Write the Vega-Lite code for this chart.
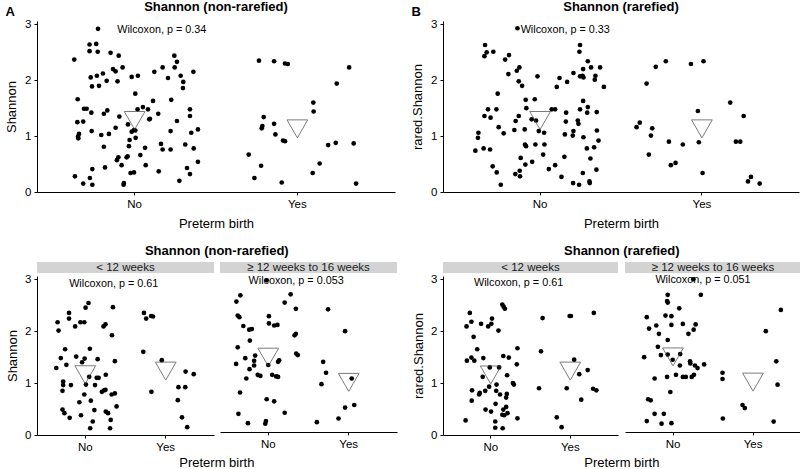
{
"$schema": "https://vega.github.io/schema/vega-lite/v6.json",
"padding": {"left": 5, "top": 1, "right": 0, "bottom": 0},
"datasets": {
"A": [
{"g":"No","j":-0.225,"v":2.92},{"g":"No","j":-0.371,"v":2.37},{"g":"No","j":-0.277,"v":2.64},{"g":"No","j":-0.236,"v":2.65},{"g":"No","j":-0.277,"v":2.52},{"g":"No","j":-0.227,"v":2.51},{"g":"No","j":-0.148,"v":2.49},{"g":"No","j":-0.098,"v":2.44},{"g":"No","j":-0.195,"v":2.12},{"g":"No","j":-0.232,"v":2.08},{"g":"No","j":-0.270,"v":2.05},{"g":"No","j":-0.262,"v":1.89},{"g":"No","j":-0.219,"v":1.90},{"g":"No","j":-0.172,"v":1.99},{"g":"No","j":-0.133,"v":2.20},{"g":"No","j":-0.117,"v":2.16},{"g":"No","j":-0.105,"v":1.98},{"g":"No","j":-0.074,"v":2.23},{"g":"No","j":-0.018,"v":2.06},{"g":"No","j":0.020,"v":2.08},{"g":"No","j":-0.350,"v":1.66},{"g":"No","j":-0.311,"v":1.49},{"g":"No","j":-0.295,"v":1.49},{"g":"No","j":-0.352,"v":1.25},{"g":"No","j":-0.316,"v":1.26},{"g":"No","j":-0.266,"v":1.42},{"g":"No","j":-0.168,"v":1.46},{"g":"No","j":-0.189,"v":1.40},{"g":"No","j":-0.094,"v":1.35},{"g":"No","j":-0.117,"v":1.15},{"g":"No","j":-0.264,"v":1.09},{"g":"No","j":-0.342,"v":1.04},{"g":"No","j":-0.348,"v":0.99},{"g":"No","j":-0.346,"v":0.96},{"g":"No","j":-0.205,"v":1.02},{"g":"No","j":-0.158,"v":1.04},{"g":"No","j":0.004,"v":1.76},{"g":"No","j":-0.041,"v":1.21},{"g":"No","j":-0.018,"v":1.08},{"g":"No","j":-0.004,"v":1.11},{"g":"No","j":0.004,"v":1.10},{"g":"No","j":0.006,"v":0.97},{"g":"No","j":0.018,"v":1.48},{"g":"No","j":0.051,"v":1.52},{"g":"No","j":0.082,"v":1.48},{"g":"No","j":0.090,"v":1.30},{"g":"No","j":0.094,"v":1.31},{"g":"No","j":0.113,"v":1.63},{"g":"No","j":0.145,"v":1.40},{"g":"No","j":0.121,"v":2.15},{"g":"No","j":0.172,"v":2.23},{"g":"No","j":0.205,"v":2.04},{"g":"No","j":0.244,"v":2.44},{"g":"No","j":0.260,"v":2.33},{"g":"No","j":0.246,"v":2.23},{"g":"No","j":0.283,"v":2.08},{"g":"No","j":0.299,"v":1.97},{"g":"No","j":0.297,"v":1.86},{"g":"No","j":0.361,"v":2.15},{"g":"No","j":0.225,"v":1.65},{"g":"No","j":0.260,"v":1.27},{"g":"No","j":0.221,"v":1.09},{"g":"No","j":0.340,"v":1.48},{"g":"No","j":0.340,"v":1.36},{"g":"No","j":0.348,"v":1.06},{"g":"No","j":0.363,"v":0.78},{"g":"No","j":0.389,"v":1.12},{"g":"No","j":0.311,"v":0.85},{"g":"No","j":0.162,"v":0.86},{"g":"No","j":0.172,"v":0.76},{"g":"No","j":0.221,"v":0.76},{"g":"No","j":0.322,"v":0.43},{"g":"No","j":0.340,"v":0.32},{"g":"No","j":0.389,"v":0.54},{"g":"No","j":0.275,"v":0.20},{"g":"No","j":0.148,"v":0.37},{"g":"No","j":0.068,"v":0.48},{"g":"No","j":0.064,"v":0.79},{"g":"No","j":0.035,"v":0.66},{"g":"No","j":-0.031,"v":0.93},{"g":"No","j":-0.035,"v":0.82},{"g":"No","j":-0.043,"v":0.64},{"g":"No","j":-0.100,"v":0.62},{"g":"No","j":-0.109,"v":0.57},{"g":"No","j":-0.049,"v":0.62},{"g":"No","j":-0.080,"v":0.48},{"g":"No","j":-0.025,"v":0.34},{"g":"No","j":-0.004,"v":0.35},{"g":"No","j":-0.066,"v":0.16},{"g":"No","j":-0.068,"v":0.13},{"g":"No","j":-0.189,"v":0.81},{"g":"No","j":-0.182,"v":0.44},{"g":"No","j":-0.260,"v":0.41},{"g":"No","j":-0.275,"v":0.25},{"g":"No","j":-0.316,"v":0.15},{"g":"No","j":-0.260,"v":0.13},{"g":"No","j":-0.367,"v":0.28},
{"g":"Yes","j":-0.236,"v":2.35},{"g":"Yes","j":-0.143,"v":2.34},{"g":"Yes","j":-0.076,"v":2.30},{"g":"Yes","j":-0.059,"v":2.29},{"g":"Yes","j":0.318,"v":2.23},{"g":"Yes","j":0.242,"v":1.94},{"g":"Yes","j":0.098,"v":1.60},{"g":"Yes","j":0.100,"v":1.44},{"g":"Yes","j":-0.207,"v":1.34},{"g":"Yes","j":-0.215,"v":1.18},{"g":"Yes","j":-0.219,"v":1.14},{"g":"Yes","j":-0.143,"v":1.22},{"g":"Yes","j":-0.135,"v":1.03},{"g":"Yes","j":-0.088,"v":0.92},{"g":"Yes","j":-0.076,"v":0.91},{"g":"Yes","j":-0.299,"v":0.67},{"g":"Yes","j":-0.223,"v":0.47},{"g":"Yes","j":-0.264,"v":0.25},{"g":"Yes","j":-0.096,"v":0.17},{"g":"Yes","j":0.094,"v":0.34},{"g":"Yes","j":0.137,"v":0.51},{"g":"Yes","j":0.189,"v":0.84},{"g":"Yes","j":0.236,"v":0.88},{"g":"Yes","j":0.346,"v":0.87},{"g":"Yes","j":0.361,"v":0.15}
],
"Am": [{"g":"No","j":0,"v":1.28},{"g":"Yes","j":0,"v":1.13}],
"B": [
{"g":"No","j":-0.140,"v":2.93},{"g":"No","j":-0.340,"v":2.63},{"g":"No","j":-0.330,"v":2.50},{"g":"No","j":-0.344,"v":2.43},{"g":"No","j":-0.289,"v":2.51},{"g":"No","j":-0.216,"v":2.37},{"g":"No","j":-0.192,"v":2.45},{"g":"No","j":-0.196,"v":2.11},{"g":"No","j":-0.128,"v":2.23},{"g":"No","j":-0.144,"v":2.17},{"g":"No","j":-0.132,"v":1.98},{"g":"No","j":-0.111,"v":1.90},{"g":"No","j":-0.262,"v":1.76},{"g":"No","j":-0.016,"v":2.07},{"g":"No","j":-0.270,"v":1.48},{"g":"No","j":-0.322,"v":1.48},{"g":"No","j":-0.344,"v":1.36},{"g":"No","j":-0.306,"v":1.33},{"g":"No","j":-0.256,"v":1.16},{"g":"No","j":-0.225,"v":1.05},{"g":"No","j":-0.381,"v":1.06},{"g":"No","j":-0.384,"v":0.97},{"g":"No","j":-0.400,"v":0.74},{"g":"No","j":-0.349,"v":0.78},{"g":"No","j":-0.309,"v":0.76},{"g":"No","j":-0.089,"v":1.65},{"g":"No","j":-0.033,"v":1.66},{"g":"No","j":-0.085,"v":1.50},{"g":"No","j":-0.132,"v":1.36},{"g":"No","j":-0.151,"v":1.27},{"g":"No","j":-0.159,"v":1.11},{"g":"No","j":-0.095,"v":1.12},{"g":"No","j":-0.052,"v":1.30},{"g":"No","j":-0.025,"v":1.28},{"g":"No","j":-0.008,"v":1.09},{"g":"No","j":0.025,"v":1.06},{"g":"No","j":-0.029,"v":0.85},{"g":"No","j":0.027,"v":0.85},{"g":"No","j":-0.093,"v":0.85},{"g":"No","j":-0.087,"v":0.82},{"g":"No","j":0.019,"v":0.67},{"g":"No","j":-0.049,"v":0.54},{"g":"No","j":-0.091,"v":0.49},{"g":"No","j":-0.120,"v":0.61},{"g":"No","j":-0.126,"v":0.38},{"g":"No","j":-0.153,"v":0.32},{"g":"No","j":-0.124,"v":0.28},{"g":"No","j":-0.293,"v":0.46},{"g":"No","j":-0.268,"v":0.35},{"g":"No","j":-0.243,"v":0.13},{"g":"No","j":0.054,"v":0.41},{"g":"No","j":0.072,"v":1.48},{"g":"No","j":0.093,"v":1.48},{"g":"No","j":0.103,"v":1.88},{"g":"No","j":0.120,"v":2.04},{"g":"No","j":0.167,"v":1.97},{"g":"No","j":0.159,"v":1.26},{"g":"No","j":0.161,"v":1.42},{"g":"No","j":0.153,"v":1.03},{"g":"No","j":0.093,"v":0.48},{"g":"No","j":0.132,"v":0.27},{"g":"No","j":0.150,"v":0.63},{"g":"No","j":0.206,"v":2.13},{"g":"No","j":0.247,"v":2.63},{"g":"No","j":0.243,"v":2.51},{"g":"No","j":0.247,"v":2.07},{"g":"No","j":0.262,"v":2.08},{"g":"No","j":0.266,"v":2.20},{"g":"No","j":0.268,"v":2.05},{"g":"No","j":0.295,"v":2.34},{"g":"No","j":0.315,"v":2.23},{"g":"No","j":0.342,"v":2.08},{"g":"No","j":0.338,"v":2.01},{"g":"No","j":0.371,"v":2.23},{"g":"No","j":0.394,"v":1.88},{"g":"No","j":0.266,"v":1.63},{"g":"No","j":0.247,"v":1.48},{"g":"No","j":0.295,"v":1.52},{"g":"No","j":0.291,"v":1.42},{"g":"No","j":0.350,"v":1.43},{"g":"No","j":0.233,"v":1.28},{"g":"No","j":0.237,"v":1.22},{"g":"No","j":0.206,"v":1.09},{"g":"No","j":0.202,"v":1.01},{"g":"No","j":0.268,"v":0.98},{"g":"No","j":0.351,"v":1.10},{"g":"No","j":0.361,"v":0.92},{"g":"No","j":0.289,"v":0.78},{"g":"No","j":0.334,"v":0.80},{"g":"No","j":0.311,"v":0.60},{"g":"No","j":0.348,"v":0.40},{"g":"No","j":0.264,"v":0.34},{"g":"No","j":0.204,"v":0.16},{"g":"No","j":0.241,"v":0.13},{"g":"No","j":0.305,"v":0.19},{"g":"No","j":0.307,"v":0.16},
{"g":"Yes","j":-0.342,"v":1.94},{"g":"Yes","j":-0.285,"v":2.24},{"g":"Yes","j":-0.223,"v":2.34},{"g":"Yes","j":-0.068,"v":2.29},{"g":"Yes","j":0.010,"v":2.34},{"g":"Yes","j":-0.404,"v":1.16},{"g":"Yes","j":-0.384,"v":1.24},{"g":"Yes","j":-0.307,"v":1.14},{"g":"Yes","j":-0.315,"v":1.01},{"g":"Yes","j":-0.328,"v":0.67},{"g":"Yes","j":-0.204,"v":0.90},{"g":"Yes","j":-0.192,"v":0.48},{"g":"Yes","j":-0.163,"v":0.52},{"g":"Yes","j":-0.118,"v":0.85},{"g":"Yes","j":-0.025,"v":1.45},{"g":"Yes","j":-0.019,"v":0.89},{"g":"Yes","j":0.004,"v":0.34},{"g":"Yes","j":0.175,"v":1.60},{"g":"Yes","j":0.258,"v":1.36},{"g":"Yes","j":0.210,"v":0.90},{"g":"Yes","j":0.237,"v":0.90},{"g":"Yes","j":0.303,"v":0.27},{"g":"Yes","j":0.285,"v":0.19},{"g":"Yes","j":0.357,"v":0.15}
],
"Bm": [{"g":"No","j":0,"v":1.28},{"g":"Yes","j":0,"v":1.13}],
"C1": [
{"g":"No","j":-0.344,"v":2.17},{"g":"No","j":-0.332,"v":2.01},{"g":"No","j":-0.202,"v":2.35},{"g":"No","j":-0.202,"v":2.24},{"g":"No","j":-0.126,"v":2.09},{"g":"No","j":-0.061,"v":2.17},{"g":"No","j":-0.012,"v":2.17},{"g":"No","j":0.004,"v":2.45},{"g":"No","j":0.040,"v":2.54},{"g":"No","j":0.227,"v":2.09},{"g":"No","j":0.251,"v":2.13},{"g":"No","j":0.344,"v":2.46},{"g":"No","j":0.332,"v":1.92},{"g":"No","j":-0.251,"v":1.65},{"g":"No","j":-0.304,"v":1.48},{"g":"No","j":-0.360,"v":1.29},{"g":"No","j":-0.235,"v":1.35},{"g":"No","j":-0.113,"v":1.51},{"g":"No","j":-0.040,"v":1.40},{"g":"No","j":-0.008,"v":1.47},{"g":"No","j":0.057,"v":1.66},{"g":"No","j":0.154,"v":1.46},{"g":"No","j":0.368,"v":1.42},{"g":"No","j":-0.275,"v":1.03},{"g":"No","j":-0.275,"v":0.96},{"g":"No","j":-0.178,"v":0.96},{"g":"No","j":-0.283,"v":0.85},{"g":"No","j":0.049,"v":1.12},{"g":"No","j":0.008,"v":0.97},{"g":"No","j":0.121,"v":0.96},{"g":"No","j":0.166,"v":1.10},{"g":"No","j":0.142,"v":1.10},{"g":"No","j":0.255,"v":1.16},{"g":"No","j":0.206,"v":0.83},{"g":"No","j":0.235,"v":0.86},{"g":"No","j":0.251,"v":0.87},{"g":"No","j":0.328,"v":0.78},{"g":"No","j":0.368,"v":0.80},{"g":"No","j":-0.012,"v":0.78},{"g":"No","j":-0.073,"v":0.63},{"g":"No","j":0.069,"v":0.66},{"g":"No","j":0.113,"v":0.48},{"g":"No","j":-0.283,"v":0.49},{"g":"No","j":-0.259,"v":0.42},{"g":"No","j":-0.194,"v":0.33},{"g":"No","j":-0.053,"v":0.38},{"g":"No","j":0.255,"v":0.45},{"g":"No","j":0.283,"v":0.42},{"g":"No","j":0.389,"v":0.55},{"g":"No","j":0.316,"v":0.29},{"g":"No","j":0.093,"v":0.26},{"g":"No","j":0.061,"v":0.13},{"g":"No","j":0.308,"v":0.13},
{"g":"Yes","j":-0.271,"v":2.35},{"g":"Yes","j":-0.243,"v":2.24},{"g":"Yes","j":-0.182,"v":2.29},{"g":"Yes","j":-0.158,"v":2.28},{"g":"Yes","j":-0.279,"v":1.60},{"g":"Yes","j":-0.049,"v":1.44},{"g":"Yes","j":-0.178,"v":0.83},{"g":"Yes","j":0.158,"v":0.92},{"g":"Yes","j":0.247,"v":1.22},{"g":"Yes","j":0.348,"v":1.17},{"g":"Yes","j":0.243,"v":0.92},{"g":"Yes","j":0.150,"v":0.67},{"g":"Yes","j":0.202,"v":0.34},{"g":"Yes","j":0.267,"v":0.15}
],
"C1m": [{"g":"No","j":0,"v":1.16},{"g":"Yes","j":0,"v":1.23}],
"C2": [
{"g":"No","j":-0.020,"v":2.92},{"g":"No","j":-0.396,"v":2.51},{"g":"No","j":-0.347,"v":2.63},{"g":"No","j":-0.380,"v":2.24},{"g":"No","j":-0.359,"v":2.21},{"g":"No","j":-0.310,"v":2.04},{"g":"No","j":-0.237,"v":1.97},{"g":"No","j":-0.204,"v":1.98},{"g":"No","j":0.008,"v":2.23},{"g":"No","j":0.008,"v":2.09},{"g":"No","j":0.073,"v":2.05},{"g":"No","j":0.114,"v":2.06},{"g":"No","j":0.204,"v":2.49},{"g":"No","j":0.278,"v":2.65},{"g":"No","j":0.343,"v":2.37},{"g":"No","j":0.343,"v":1.89},{"g":"No","j":0.327,"v":1.86},{"g":"No","j":-0.380,"v":1.63},{"g":"No","j":-0.400,"v":1.31},{"g":"No","j":-0.286,"v":1.42},{"g":"No","j":-0.163,"v":1.47},{"g":"No","j":-0.176,"v":1.37},{"g":"No","j":-0.233,"v":1.21},{"g":"No","j":-0.176,"v":1.28},{"g":"No","j":-0.229,"v":1.76},{"g":"No","j":-0.273,"v":1.03},{"g":"No","j":-0.131,"v":1.10},{"g":"No","j":-0.098,"v":1.08},{"g":"No","j":0.000,"v":1.29},{"g":"No","j":0.122,"v":1.35},{"g":"No","j":0.135,"v":1.38},{"g":"No","j":0.049,"v":1.10},{"g":"No","j":0.098,"v":1.07},{"g":"No","j":0.122,"v":1.06},{"g":"No","j":0.347,"v":1.51},{"g":"No","j":0.367,"v":1.48},{"g":"No","j":-0.351,"v":0.76},{"g":"No","j":0.073,"v":0.59},{"g":"No","j":-0.020,"v":0.63},{"g":"No","j":0.204,"v":0.37},{"g":"No","j":-0.371,"v":0.35},{"g":"No","j":-0.253,"v":0.17},{"g":"No","j":-0.029,"v":0.21},{"g":"No","j":-0.037,"v":0.16},
{"g":"Yes","j":-0.257,"v":2.36},{"g":"Yes","j":-0.045,"v":1.94},{"g":"Yes","j":-0.318,"v":1.35},{"g":"Yes","j":-0.282,"v":1.14},{"g":"Yes","j":-0.339,"v":0.92},{"g":"Yes","j":0.037,"v":1.03},{"g":"Yes","j":0.069,"v":0.52},{"g":"Yes","j":-0.045,"v":0.47},{"g":"Yes","j":-0.127,"v":0.26},{"g":"Yes","j":-0.396,"v":0.19}
],
"C2m": [{"g":"No","j":0,"v":1.44},{"g":"Yes","j":0,"v":0.955}],
"D1": [
{"g":"No","j":-0.304,"v":2.09},{"g":"No","j":-0.263,"v":2.35},{"g":"No","j":-0.243,"v":2.18},{"g":"No","j":-0.121,"v":2.14},{"g":"No","j":-0.032,"v":2.09},{"g":"No","j":0.016,"v":2.24},{"g":"No","j":0.008,"v":2.14},{"g":"No","j":0.097,"v":2.01},{"g":"No","j":0.146,"v":2.51},{"g":"No","j":0.162,"v":2.47},{"g":"No","j":0.178,"v":2.43},{"g":"No","j":-0.215,"v":1.89},{"g":"No","j":-0.170,"v":1.65},{"g":"No","j":-0.243,"v":1.49},{"g":"No","j":-0.300,"v":1.43},{"g":"No","j":-0.206,"v":1.43},{"g":"No","j":-0.093,"v":1.48},{"g":"No","j":0.158,"v":1.52},{"g":"No","j":0.227,"v":1.49},{"g":"No","j":0.336,"v":1.67},{"g":"No","j":0.328,"v":1.36},{"g":"No","j":-0.101,"v":1.12},{"g":"No","j":-0.012,"v":1.30},{"g":"No","j":0.105,"v":1.30},{"g":"No","j":0.206,"v":1.15},{"g":"No","j":0.279,"v":1.00},{"g":"No","j":0.291,"v":0.97},{"g":"No","j":-0.020,"v":0.93},{"g":"No","j":0.073,"v":0.97},{"g":"No","j":-0.069,"v":0.85},{"g":"No","j":-0.146,"v":0.78},{"g":"No","j":-0.138,"v":0.81},{"g":"No","j":-0.235,"v":0.86},{"g":"No","j":0.069,"v":0.85},{"g":"No","j":0.117,"v":0.78},{"g":"No","j":0.202,"v":0.79},{"g":"No","j":0.194,"v":0.72},{"g":"No","j":-0.239,"v":0.66},{"g":"No","j":-0.065,"v":0.49},{"g":"No","j":0.004,"v":0.45},{"g":"No","j":0.061,"v":0.60},{"g":"No","j":0.194,"v":0.54},{"g":"No","j":0.158,"v":0.49},{"g":"No","j":0.211,"v":0.42},{"g":"No","j":0.170,"v":0.38},{"g":"No","j":0.146,"v":0.39},{"g":"No","j":0.336,"v":0.32},{"g":"No","j":-0.316,"v":0.28},{"g":"No","j":0.057,"v":0.26},{"g":"No","j":0.057,"v":0.14},{"g":"No","j":0.150,"v":0.13},
{"g":"Yes","j":-0.348,"v":2.25},{"g":"Yes","j":-0.008,"v":2.29},{"g":"Yes","j":0.008,"v":2.29},{"g":"Yes","j":0.296,"v":2.35},{"g":"Yes","j":-0.368,"v":1.61},{"g":"Yes","j":0.049,"v":1.45},{"g":"Yes","j":0.219,"v":1.25},{"g":"Yes","j":0.113,"v":1.17},{"g":"Yes","j":-0.393,"v":0.90},{"g":"Yes","j":-0.045,"v":0.90},{"g":"Yes","j":0.287,"v":0.89},{"g":"Yes","j":0.328,"v":0.86},{"g":"Yes","j":0.138,"v":0.68},{"g":"Yes","j":-0.170,"v":0.34},{"g":"Yes","j":-0.109,"v":0.15}
],
"D1m": [{"g":"No","j":0,"v":1.155},{"g":"Yes","j":0,"v":1.23}],
"D2": [
{"g":"No","j":0.254,"v":2.94},{"g":"No","j":-0.066,"v":2.64},{"g":"No","j":-0.074,"v":2.52},{"g":"No","j":-0.066,"v":2.49},{"g":"No","j":-0.328,"v":2.21},{"g":"No","j":-0.209,"v":2.05},{"g":"No","j":-0.299,"v":1.99},{"g":"No","j":-0.176,"v":1.89},{"g":"No","j":-0.094,"v":2.24},{"g":"No","j":-0.020,"v":2.23},{"g":"No","j":-0.020,"v":2.06},{"g":"No","j":0.078,"v":2.38},{"g":"No","j":0.123,"v":2.08},{"g":"No","j":0.193,"v":1.89},{"g":"No","j":0.258,"v":1.97},{"g":"No","j":0.283,"v":2.07},{"g":"No","j":0.348,"v":2.64},{"g":"No","j":-0.189,"v":1.64},{"g":"No","j":-0.066,"v":1.77},{"g":"No","j":-0.361,"v":1.44},{"g":"No","j":-0.151,"v":1.48},{"g":"No","j":-0.066,"v":1.49},{"g":"No","j":-0.004,"v":1.39},{"g":"No","j":0.090,"v":1.50},{"g":"No","j":0.213,"v":1.36},{"g":"No","j":0.217,"v":1.32},{"g":"No","j":0.274,"v":1.28},{"g":"No","j":0.307,"v":1.23},{"g":"No","j":0.389,"v":1.30},{"g":"No","j":0.086,"v":1.28},{"g":"No","j":-0.230,"v":1.03},{"g":"No","j":-0.074,"v":1.06},{"g":"No","j":0.037,"v":1.10},{"g":"No","j":0.123,"v":1.06},{"g":"No","j":0.160,"v":1.06},{"g":"No","j":0.234,"v":1.06},{"g":"No","j":0.262,"v":1.10},{"g":"No","j":-0.033,"v":0.77},{"g":"No","j":-0.311,"v":0.63},{"g":"No","j":-0.279,"v":0.61},{"g":"No","j":-0.230,"v":0.35},{"g":"No","j":-0.115,"v":0.35},{"g":"No","j":-0.328,"v":0.21},{"g":"No","j":-0.143,"v":0.16},{"g":"No","j":-0.020,"v":0.17},
{"g":"Yes","j":-0.381,"v":1.14},{"g":"Yes","j":-0.381,"v":1.02},{"g":"Yes","j":-0.377,"v":0.26},{"g":"Yes","j":-0.131,"v":0.52},{"g":"Yes","j":-0.102,"v":0.46},{"g":"Yes","j":0.160,"v":1.94},{"g":"Yes","j":0.291,"v":1.36},{"g":"Yes","j":0.307,"v":0.91},{"g":"Yes","j":0.348,"v":2.35},{"g":"Yes","j":0.258,"v":0.20}
],
"D2m": [{"g":"No","j":0,"v":1.445},{"g":"Yes","j":0,"v":0.96}]
},
"resolve": {"scale": {"x": "independent", "y": "independent", "xOffset": "independent"}},
"vconcat": [
{"resolve": {"scale": {"x": "independent", "y": "independent", "xOffset": "independent"}}, "hconcat": [
 {"title": {"text": "A", "anchor": "start", "frame": "bounds", "offset": -18, "fontSize": 13},
  "vconcat": [
  {"title": {"text": "Shannon (non-rarefied)", "frame": "group"}, "width": 358, "height": 171,
   "layer": [
    {"data": {"name": "A"}, "mark": {"type": "circle", "size": 22, "opacity": 1, "color": "black"},
     "encoding": {
      "x": {"field": "g", "type": "nominal", "scale": {"domain": ["No", "Yes"], "paddingInner": 0, "paddingOuter": 0.1}, "axis": {"title": "Preterm birth", "titlePadding": 8}},
      "xOffset": {"field": "j", "type": "quantitative", "scale": {"domain": [-0.5, 0.5]}},
      "y": {"field": "v", "type": "quantitative", "scale": {"domain": [0, 3.06], "nice": false, "zero": false}, "axis": {"title": "Shannon", "values": [0, 1, 2, 3], "format": "d", "titlePadding": 6}}}},
    {"data": {"name": "Am"}, "mark": {"type": "point", "shape": "triangle-down", "size": 430, "filled": false, "stroke": "#444", "strokeWidth": 1},
     "encoding": {"x": {"field": "g", "type": "nominal"}, "xOffset": {"field": "j", "type": "quantitative"}, "y": {"field": "v", "type": "quantitative"}}},
    {"data": {"values": [{"g": "No", "j": -0.107, "v": 2.9, "t": "Wilcoxon, p = 0.34"}]}, "mark": {"type": "text", "align": "left", "fontSize": 10.8},
     "encoding": {"x": {"field": "g", "type": "nominal"}, "xOffset": {"field": "j", "type": "quantitative"}, "y": {"field": "v", "type": "quantitative"}, "text": {"field": "t"}}}
   ]}
 ]},
 {"title": {"text": "B", "anchor": "start", "frame": "bounds", "offset": -18, "fontSize": 13},
  "vconcat": [
  {"title": {"text": "Shannon (rarefied)", "frame": "group"}, "width": 356, "height": 171,
   "layer": [
    {"data": {"name": "B"}, "mark": {"type": "circle", "size": 22, "opacity": 1, "color": "black"},
     "encoding": {
      "x": {"field": "g", "type": "nominal", "scale": {"domain": ["No", "Yes"], "paddingInner": 0, "paddingOuter": 0.1}, "axis": {"title": "Preterm birth", "titlePadding": 8}},
      "xOffset": {"field": "j", "type": "quantitative", "scale": {"domain": [-0.5, 0.5]}},
      "y": {"field": "v", "type": "quantitative", "scale": {"domain": [0, 3.06], "nice": false, "zero": false}, "axis": {"title": "rared.Shannon", "values": [0, 1, 2, 3], "format": "d", "titlePadding": 6}}}},
    {"data": {"name": "Bm"}, "mark": {"type": "point", "shape": "triangle-down", "size": 430, "filled": false, "stroke": "#444", "strokeWidth": 1},
     "encoding": {"x": {"field": "g", "type": "nominal"}, "xOffset": {"field": "j", "type": "quantitative"}, "y": {"field": "v", "type": "quantitative"}}},
    {"data": {"values": [{"g": "No", "j": -0.12, "v": 2.9, "t": "Wilcoxon, p = 0.33"}]}, "mark": {"type": "text", "align": "left", "fontSize": 10.8},
     "encoding": {"x": {"field": "g", "type": "nominal"}, "xOffset": {"field": "j", "type": "quantitative"}, "y": {"field": "v", "type": "quantitative"}, "text": {"field": "t"}}}
   ]}
 ]}
], "spacing": 16},
{"resolve": {"scale": {"x": "independent", "y": "independent", "xOffset": "independent"}}, "hconcat": [
 {"title": {"text": "Shannon (non-rarefied)", "anchor": "middle", "dx": 15},
  "vconcat": [
  {"title": {"text": "Preterm birth", "orient": "bottom", "anchor": "middle", "fontWeight": "normal", "fontSize": 13, "offset": 4, "dx": 15},
   "resolve": {"scale": {"x": "independent", "y": "independent", "xOffset": "independent"}},
   "hconcat": [
    {"spacing": 0, "resolve": {"scale": {"x": "independent", "y": "independent", "xOffset": "independent"}}, "vconcat": [
      {"width": 177, "height": 11, "view": {"fill": "#d3d3d3", "stroke": null}, "data": {"values": [{"s": "< 12 weeks"}]}, "mark": {"type": "text", "fontSize": 11.5, "color": "#1a1a1a"}, "encoding": {"text": {"field": "s", "type": "nominal"}}},
      {"width": 177, "height": 159,
       "layer": [
        {"data": {"name": "C1"}, "mark": {"type": "circle", "size": 22, "opacity": 1, "color": "black"},
         "encoding": {
          "x": {"field": "g", "type": "nominal", "scale": {"domain": ["No", "Yes"], "paddingInner": 0, "paddingOuter": 0.1}, "axis": {"title": null}},
          "xOffset": {"field": "j", "type": "quantitative", "scale": {"domain": [-0.5, 0.5]}},
          "y": {"field": "v", "type": "quantitative", "scale": {"domain": [0, 3.06], "nice": false, "zero": false}, "axis": {"title": "Shannon", "values": [0, 1, 2, 3], "format": "d"}}}},
        {"data": {"name": "C1m"}, "mark": {"type": "point", "shape": "triangle-down", "size": 430, "filled": false, "stroke": "#444", "strokeWidth": 1},
         "encoding": {"x": {"field": "g", "type": "nominal"}, "xOffset": {"field": "j", "type": "quantitative"}, "y": {"field": "v", "type": "quantitative"}}},
        {"data": {"values": [{"g": "No", "j": -0.2, "v": 2.91, "t": "Wilcoxon, p = 0.61"}]}, "mark": {"type": "text", "align": "left", "fontSize": 10.8},
         "encoding": {"x": {"field": "g", "type": "nominal"}, "xOffset": {"field": "j", "type": "quantitative"}, "y": {"field": "v", "type": "quantitative"}, "text": {"field": "t"}}}
       ]}
    ]},
    {"spacing": 0, "resolve": {"scale": {"x": "independent", "y": "independent", "xOffset": "independent"}}, "vconcat": [
      {"width": 177, "height": 11, "view": {"fill": "#d3d3d3", "stroke": null}, "data": {"values": [{"s": "≥ 12 weeks to 16 weeks"}]}, "mark": {"type": "text", "fontSize": 11.5, "color": "#1a1a1a"}, "encoding": {"text": {"field": "s", "type": "nominal"}}},
      {"width": 177, "height": 159,
       "layer": [
        {"data": {"name": "C2"}, "mark": {"type": "circle", "size": 22, "opacity": 1, "color": "black"},
         "encoding": {
          "x": {"field": "g", "type": "nominal", "scale": {"domain": ["No", "Yes"], "paddingInner": 0, "paddingOuter": 0.1}, "axis": {"title": null}},
          "xOffset": {"field": "j", "type": "quantitative", "scale": {"domain": [-0.5, 0.5]}},
          "y": {"field": "v", "type": "quantitative", "scale": {"domain": [0, 3.06], "nice": false, "zero": false}, "axis": null}}},
        {"data": {"name": "C2m"}, "mark": {"type": "point", "shape": "triangle-down", "size": 430, "filled": false, "stroke": "#444", "strokeWidth": 1},
         "encoding": {"x": {"field": "g", "type": "nominal"}, "xOffset": {"field": "j", "type": "quantitative"}, "y": {"field": "v", "type": "quantitative"}}},
        {"data": {"values": [{"g": "No", "j": -0.245, "v": 2.91, "t": "Wilcoxon, p = 0.053"}]}, "mark": {"type": "text", "align": "left", "fontSize": 10.8},
         "encoding": {"x": {"field": "g", "type": "nominal"}, "xOffset": {"field": "j", "type": "quantitative"}, "y": {"field": "v", "type": "quantitative"}, "text": {"field": "t"}}}
       ]}
    ]}
   ], "spacing": 6}
 ]},
 {"title": {"text": "Shannon (rarefied)", "anchor": "middle", "dx": 15},
  "vconcat": [
  {"title": {"text": "Preterm birth", "orient": "bottom", "anchor": "middle", "fontWeight": "normal", "fontSize": 13, "offset": 4, "dx": 15},
   "resolve": {"scale": {"x": "independent", "y": "independent", "xOffset": "independent"}},
   "hconcat": [
    {"spacing": 0, "resolve": {"scale": {"x": "independent", "y": "independent", "xOffset": "independent"}}, "vconcat": [
      {"width": 175, "height": 11, "view": {"fill": "#d3d3d3", "stroke": null}, "data": {"values": [{"s": "< 12 weeks"}]}, "mark": {"type": "text", "fontSize": 11.5, "color": "#1a1a1a"}, "encoding": {"text": {"field": "s", "type": "nominal"}}},
      {"width": 175, "height": 159,
       "layer": [
        {"data": {"name": "D1"}, "mark": {"type": "circle", "size": 22, "opacity": 1, "color": "black"},
         "encoding": {
          "x": {"field": "g", "type": "nominal", "scale": {"domain": ["No", "Yes"], "paddingInner": 0, "paddingOuter": 0.1}, "axis": {"title": null}},
          "xOffset": {"field": "j", "type": "quantitative", "scale": {"domain": [-0.5, 0.5]}},
          "y": {"field": "v", "type": "quantitative", "scale": {"domain": [0, 3.06], "nice": false, "zero": false}, "axis": {"title": "rared.Shannon", "values": [0, 1, 2, 3], "format": "d"}}}},
        {"data": {"name": "D1m"}, "mark": {"type": "point", "shape": "triangle-down", "size": 430, "filled": false, "stroke": "#444", "strokeWidth": 1},
         "encoding": {"x": {"field": "g", "type": "nominal"}, "xOffset": {"field": "j", "type": "quantitative"}, "y": {"field": "v", "type": "quantitative"}}},
        {"data": {"values": [{"g": "No", "j": -0.21, "v": 2.93, "t": "Wilcoxon, p = 0.61"}]}, "mark": {"type": "text", "align": "left", "fontSize": 10.8},
         "encoding": {"x": {"field": "g", "type": "nominal"}, "xOffset": {"field": "j", "type": "quantitative"}, "y": {"field": "v", "type": "quantitative"}, "text": {"field": "t"}}}
       ]}
    ]},
    {"spacing": 0, "resolve": {"scale": {"x": "independent", "y": "independent", "xOffset": "independent"}}, "vconcat": [
      {"width": 176, "height": 11, "view": {"fill": "#d3d3d3", "stroke": null}, "data": {"values": [{"s": "≥ 12 weeks to 16 weeks"}]}, "mark": {"type": "text", "fontSize": 11.5, "color": "#1a1a1a"}, "encoding": {"text": {"field": "s", "type": "nominal"}}},
      {"width": 176, "height": 159,
       "layer": [
        {"data": {"name": "D2"}, "mark": {"type": "circle", "size": 22, "opacity": 1, "color": "black"},
         "encoding": {
          "x": {"field": "g", "type": "nominal", "scale": {"domain": ["No", "Yes"], "paddingInner": 0, "paddingOuter": 0.1}, "axis": {"title": null}},
          "xOffset": {"field": "j", "type": "quantitative", "scale": {"domain": [-0.5, 0.5]}},
          "y": {"field": "v", "type": "quantitative", "scale": {"domain": [0, 3.06], "nice": false, "zero": false}, "axis": null}}},
        {"data": {"name": "D2m"}, "mark": {"type": "point", "shape": "triangle-down", "size": 430, "filled": false, "stroke": "#444", "strokeWidth": 1},
         "encoding": {"x": {"field": "g", "type": "nominal"}, "xOffset": {"field": "j", "type": "quantitative"}, "y": {"field": "v", "type": "quantitative"}}},
        {"data": {"values": [{"g": "No", "j": -0.22, "v": 2.93, "t": "Wilcoxon, p = 0.051"}]}, "mark": {"type": "text", "align": "left", "fontSize": 10.8},
         "encoding": {"x": {"field": "g", "type": "nominal"}, "xOffset": {"field": "j", "type": "quantitative"}, "y": {"field": "v", "type": "quantitative"}, "text": {"field": "t"}}}
       ]}
    ]}
   ], "spacing": 7}
 ]}
], "spacing": 15}
],
"spacing": 13,
"config": {
 "font": "Liberation Sans",
 "view": {"stroke": null},
 "axis": {"grid": false, "domainColor": "#000", "tickColor": "#000", "labelColor": "#000", "titleColor": "#000", "labelFontSize": 11.5, "titleFontSize": 13, "titleFontWeight": "normal", "tickSize": 3, "labelPadding": 3, "domainWidth": 1, "tickWidth": 1, "titlePadding": 5},
 "axisX": {"labelAngle": 0, "titlePadding": 5},
 "title": {"fontSize": 13, "fontWeight": "bold", "color": "#000", "offset": 4}
}
}
